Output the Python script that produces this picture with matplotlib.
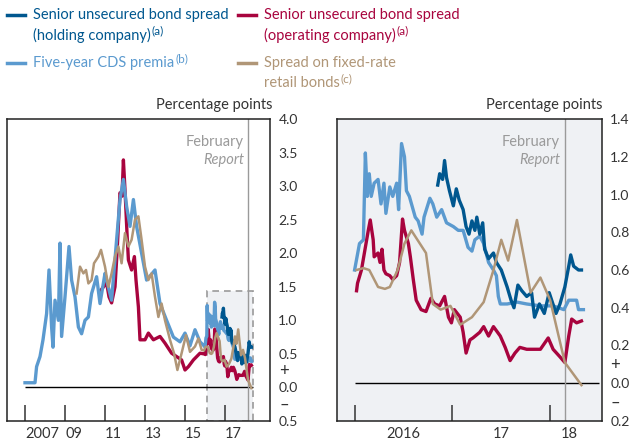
import matplotlib.pyplot as plt
from matplotlib.lines import Line2D
from matplotlib.patches import Rectangle

plt.rcParams['font.family'] = ['Lato', 'DejaVu Sans']

# colours
c_hold = '#00578f'
c_oper = '#a8043e'
c_cds = '#5b9acf'
c_retail = '#b09677'
c_text = '#333333'
c_grey = '#9a9a9a'

# ---- data: years (decimal) and percentage points ----
# five-year CDS premia
cds_x_hist = [2007.0, 2007.5, 2007.58, 2007.75, 2007.9, 2008.08, 2008.2, 2008.33, 2008.4, 2008.5,
              2008.67, 2008.75, 2008.83, 2009.0, 2009.2, 2009.33, 2009.5, 2009.67, 2009.83, 2010.0,
              2010.17, 2010.33, 2010.58, 2010.75, 2011.0, 2011.08, 2011.33, 2011.58, 2011.75, 2011.92,
              2012.08, 2012.25, 2012.42, 2012.58, 2012.83, 2013.08, 2013.5, 2013.75, 2014.08, 2014.42,
              2014.75, 2015.0, 2015.25, 2015.5, 2015.75, 2015.95]
cds_y_hist = [0.07, 0.07, 0.31, 0.46, 0.71, 1.1, 1.75, 0.9, 0.6, 1.3,
              1.0, 2.15, 0.76, 1.35, 2.1, 1.6, 1.35, 0.9, 0.8, 1.0,
              1.05, 1.4, 1.65, 1.25, 1.7, 1.6, 1.3, 2.2, 2.8, 3.1,
              2.7, 2.4, 2.8, 2.4, 2.0, 1.6, 1.75, 1.25, 1.0, 0.75,
              0.68, 0.81, 0.62, 0.86, 0.68, 0.62]
cds_x = [2016.0, 2016.05, 2016.09, 2016.11, 2016.13, 2016.15, 2016.17, 2016.2, 2016.24, 2016.27,
         2016.3, 2016.32, 2016.36, 2016.39, 2016.43, 2016.45, 2016.48, 2016.51, 2016.53, 2016.56,
         2016.62, 2016.65, 2016.69, 2016.71, 2016.77, 2016.8, 2016.84, 2016.89, 2016.94, 2017.01,
         2017.06, 2017.11, 2017.16, 2017.2, 2017.23, 2017.28, 2017.32, 2017.37, 2017.42, 2017.45,
         2017.47, 2017.49, 2017.56, 2017.66, 2017.76, 2017.9, 2018.03, 2018.14, 2018.19, 2018.27,
         2018.29, 2018.34]
cds_y = [0.60, 0.74, 0.76, 1.22, 0.99, 1.11, 0.99, 1.06, 1.08, 0.95,
         1.06, 0.90, 1.04, 0.99, 1.06, 0.92, 1.27, 1.20, 1.02, 0.99,
         0.88, 0.86, 0.79, 0.88, 0.98, 0.95, 0.88, 0.92, 0.85, 0.83,
         0.81, 0.81, 0.72, 0.70, 0.76, 0.78, 0.74, 0.64, 0.60, 0.57,
         0.46, 0.42, 0.42, 0.43, 0.42, 0.41, 0.41, 0.39, 0.44, 0.44,
         0.39, 0.39]

# senior unsecured bond spread (holding company)
hold_x = [2016.85, 2016.87, 2016.9, 2016.92, 2016.94, 2016.97, 2017.01, 2017.04, 2017.07, 2017.11,
          2017.14, 2017.17, 2017.2, 2017.23, 2017.25, 2017.28, 2017.31, 2017.33, 2017.37, 2017.42,
          2017.45, 2017.5, 2017.56, 2017.6, 2017.63, 2017.67, 2017.71, 2017.76, 2017.81, 2017.84,
          2017.89, 2017.94, 2017.99, 2018.06, 2018.1, 2018.15, 2018.19, 2018.21, 2018.24, 2018.29,
          2018.32]
hold_y = [1.05, 1.11, 1.08, 1.18, 1.09, 1.02, 0.94, 1.03, 0.97, 0.92,
          0.83, 0.79, 0.86, 0.81, 0.88, 0.79, 0.85, 0.71, 0.66, 0.69,
          0.64, 0.60, 0.51, 0.44, 0.40, 0.52, 0.49, 0.46, 0.48, 0.35,
          0.42, 0.37, 0.48, 0.37, 0.42, 0.51, 0.62, 0.68, 0.62, 0.60,
          0.60]

# senior unsecured bond spread (operating company)
oper_x_hist = [2010.8, 2011.08, 2011.2, 2011.33, 2011.5, 2011.6, 2011.75, 2011.85, 2011.92, 2012.0,
               2012.1, 2012.17, 2012.33, 2012.47, 2012.55, 2012.67, 2012.75, 2013.0, 2013.17, 2013.42,
               2013.75, 2014.0, 2014.33, 2014.58, 2014.83, 2015.0, 2015.17, 2015.42, 2015.75, 2015.95]
oper_y_hist = [1.45, 1.56, 1.35, 1.26, 1.5, 2.0, 2.9, 2.85, 3.39, 2.94,
               2.3, 1.9, 1.75, 1.95, 1.6, 1.2, 0.71, 0.71, 0.81, 0.71,
               0.76, 0.66, 0.51, 0.46, 0.41, 0.26, 0.31, 0.41, 0.51, 0.50]
oper_x = [2016.02, 2016.03, 2016.07, 2016.1, 2016.14, 2016.16, 2016.19, 2016.2, 2016.24, 2016.26,
          2016.28, 2016.3, 2016.32, 2016.36, 2016.39, 2016.43, 2016.46, 2016.49, 2016.51, 2016.55,
          2016.57, 2016.6, 2016.63, 2016.68, 2016.73, 2016.78, 2016.82, 2016.87, 2016.92, 2016.96,
          2016.99, 2017.02, 2017.08, 2017.11, 2017.14, 2017.18, 2017.21, 2017.28, 2017.32, 2017.37,
          2017.42, 2017.49, 2017.54, 2017.59, 2017.64, 2017.69, 2017.76, 2017.83, 2017.9, 2017.98,
          2018.03, 2018.1, 2018.15, 2018.19, 2018.22, 2018.27, 2018.32]
oper_y = [0.49, 0.53, 0.60, 0.69, 0.81, 0.865, 0.76, 0.67, 0.69, 0.64,
          0.71, 0.60, 0.58, 0.57, 0.55, 0.57, 0.64, 0.87, 0.81, 0.74,
          0.67, 0.55, 0.44, 0.39, 0.38, 0.45, 0.42, 0.41, 0.46, 0.35,
          0.32, 0.39, 0.35, 0.27, 0.16, 0.23, 0.24, 0.27, 0.30, 0.25,
          0.30, 0.25, 0.19, 0.12, 0.16, 0.19, 0.18, 0.18, 0.18, 0.24,
          0.18, 0.14, 0.11, 0.25, 0.34, 0.32, 0.33]

# spread on fixed-rate retail bonds
retail_x_hist = [2009.58, 2009.75, 2009.92, 2010.05, 2010.17, 2010.33, 2010.45, 2010.67, 2010.8, 2011.0,
                 2011.17, 2011.33, 2011.5, 2011.67, 2011.83, 2012.0, 2012.17, 2012.33, 2012.5, 2012.67,
                 2012.83, 2013.0, 2013.17, 2013.33, 2013.5, 2013.67, 2013.83, 2014.0, 2014.25, 2014.45,
                 2014.62, 2014.83, 2015.05, 2015.25, 2015.5, 2015.67, 2015.83, 2015.95]
retail_y_hist = [1.40, 1.8, 1.7, 1.75, 1.55, 1.6, 1.85, 1.95, 2.05, 1.8,
                 1.5, 1.7, 1.95, 2.1, 1.85, 2.3, 2.1, 2.2, 2.5, 2.55,
                 2.2, 1.8, 1.6, 1.7, 1.35, 1.05, 1.25, 1.0, 0.71, 0.51,
                 0.26, 0.51, 0.78, 0.53, 0.61, 0.73, 0.56, 0.55]
retail_x = [2016.02, 2016.09, 2016.15, 2016.24, 2016.31, 2016.36, 2016.44, 2016.51, 2016.58, 2016.73,
            2016.8, 2016.88, 2016.98, 2017.08, 2017.2, 2017.32, 2017.42, 2017.5, 2017.57, 2017.66,
            2017.8, 2017.9, 2018.0, 2018.15, 2018.32]
retail_y = [0.60, 0.61, 0.60, 0.51, 0.50, 0.51, 0.60, 0.74, 0.81, 0.69,
            0.42, 0.39, 0.41, 0.31, 0.35, 0.43, 0.60, 0.76, 0.65, 0.865,
            0.48, 0.56, 0.44, 0.11, -0.01]

feb_report = 2018.15
left_years = [2007, 2009, 2011, 2013, 2015, 2017]
left_labels = ['2007', '09', '11', '13', '15', '17']
right_years = [2016, 2017, 2018]
right_label_pos = [2016.5, 2017.5, 2018.19]
right_labels = ['2016', '17', '18']

W, H = 632, 444
fig = plt.figure(figsize=(W / 100, H / 100), dpi=100)


def fx(px):
    return px / W


def fy(py):
    return 1 - py / H


axL = fig.add_axes([fx(7), fy(421), fx(263), 302 / H])
axR = fig.add_axes([fx(337), fy(421), fx(265), 302 / H])

# shaded zoom box on left panel
axL.add_patch(Rectangle((2016.12, -0.5), 2018.38 - 2016.12, 1.93, facecolor='#eff1f4',
                        edgecolor=c_grey, linestyle=(0, (4, 3)), lw=1.2, zorder=0.5))
axR.set_facecolor('#eff1f4')

lw_main = 2.4
axL.plot(oper_x_hist + oper_x, oper_y_hist + oper_y, color=c_oper, lw=lw_main, zorder=2)
axL.plot(cds_x_hist + cds_x, cds_y_hist + cds_y, color=c_cds, lw=lw_main, zorder=3)
axL.plot(hold_x, hold_y, color=c_hold, lw=lw_main, zorder=4)
axL.plot(retail_x_hist + retail_x, retail_y_hist + retail_y, color=c_retail, lw=1.8, zorder=5)

axR.plot(oper_x, oper_y, color=c_oper, lw=lw_main, zorder=2)
axR.plot(cds_x, cds_y, color=c_cds, lw=lw_main, zorder=3)
axR.plot(hold_x, hold_y, color=c_hold, lw=lw_main, zorder=4)
axR.plot(retail_x, retail_y, color=c_retail, lw=1.8, zorder=5)

axL.hlines(0, 2007, 2018.4, color='black', lw=1, zorder=1)
axR.hlines(0, 2016.0, 2018.5, color='black', lw=1, zorder=1)

for ax in (axL, axR):
    ax.axvline(feb_report, color=c_grey, lw=1, zorder=1)

axL.set_xlim(2006.1, 2019.25)
axL.set_ylim(-0.5, 4.0)
axR.set_xlim(2015.82, 2018.53)
axR.set_ylim(-0.2, 1.4)

axL.set_yticks([-0.5, 0, 0.5, 1.0, 1.5, 2.0, 2.5, 3.0, 3.5, 4.0])
axR.set_yticks([-0.2, 0, 0.2, 0.4, 0.6, 0.8, 1.0, 1.2, 1.4])
axL.set_xticks(left_years)
axR.set_xticks(right_years)

for ax, labels, pos in ((axL, left_labels, left_years), (axR, right_labels, right_label_pos)):
    for s in ax.spines.values():
        s.set_linewidth(1.1)
        s.set_color('#222222')
    ax.tick_params(axis='y', direction='in', length=8, width=1.1, left=True, right=True,
                   labelleft=False, labelright=True, pad=6, labelsize=10, labelcolor=c_text,
                   color='#333333')
    ax.tick_params(axis='x', direction='in', length=11.5, width=1.1, labelbottom=False,
                   color='#333333')
    ax.yaxis.set_major_formatter(plt.FuncFormatter(lambda v, p: '%.1f' % abs(v)))
    for t in ax.yaxis.get_major_ticks():
        if abs(t.get_loc()) < 1e-9:
            t.tick1line.set_visible(False)
            t.tick2line.set_visible(False)
    ha = 'left' if ax is axL else 'center'
    for x, lab in zip(pos, labels):
        ax.text(x, -13 / 302, lab, transform=ax.get_xaxis_transform(), ha=ha, va='center',
                fontsize=10.5, color=c_text)

# + / - signs beside the zero label
axL.text(1.035, 0.24, '+', transform=axL.get_yaxis_transform(), ha='left', va='center',
         fontsize=12, color=c_text)
axL.text(1.035, -0.26, '–', transform=axL.get_yaxis_transform(), ha='left', va='center',
         fontsize=12, color=c_text)
axR.text(1.032, 0.095, '+', transform=axR.get_yaxis_transform(), ha='left', va='center',
         fontsize=12, color=c_text)
axR.text(1.032, -0.105, '–', transform=axR.get_yaxis_transform(), ha='left', va='center',
         fontsize=12, color=c_text)

# February Report annotations
for xr in (244, 560):
    fig.text(fx(xr), fy(142), 'February', ha='right', va='center', fontsize=10.5, color=c_grey)
    fig.text(fx(xr), fy(160), 'Report', ha='right', va='center', fontsize=10.5, color=c_grey,
             style='italic')

fig.text(fx(272), fy(105), 'Percentage points', ha='right', va='center', fontsize=10.5, color=c_text)
fig.text(fx(602), fy(105), 'Percentage points', ha='right', va='center', fontsize=10.5, color=c_text)

# legend
legend_items = [
    (7, 15, c_hold, ['Senior unsecured bond spread', '(holding company)'], '(a)'),
    (238, 15, c_oper, ['Senior unsecured bond spread', '(operating company)'], '(a)'),
    (7, 63, c_cds, ['Five-year CDS premia'], '(b)'),
    (238, 63, c_retail, ['Spread on fixed-rate', 'retail bonds'], '(c)'),
]
renderer = fig.canvas.get_renderer()
for x0, y0, col, lines, sup in legend_items:
    fig.add_artist(Line2D([fx(x0), fx(x0 + 18)], [fy(y0), fy(y0)], color=col, lw=2.5))
    for i, s in enumerate(lines):
        t = fig.text(fx(x0 + 26), fy(y0 + 20 * i), s, ha='left', va='center', fontsize=10.5,
                     color=col)
    bb = t.get_window_extent(renderer)
    fig.text(fx(bb.x1 + 1), fy(y0 + 20 * (len(lines) - 1) - 4), sup, ha='left', va='center',
             fontsize=8.5, color=col)

fig.savefig('out.png', dpi=100)
